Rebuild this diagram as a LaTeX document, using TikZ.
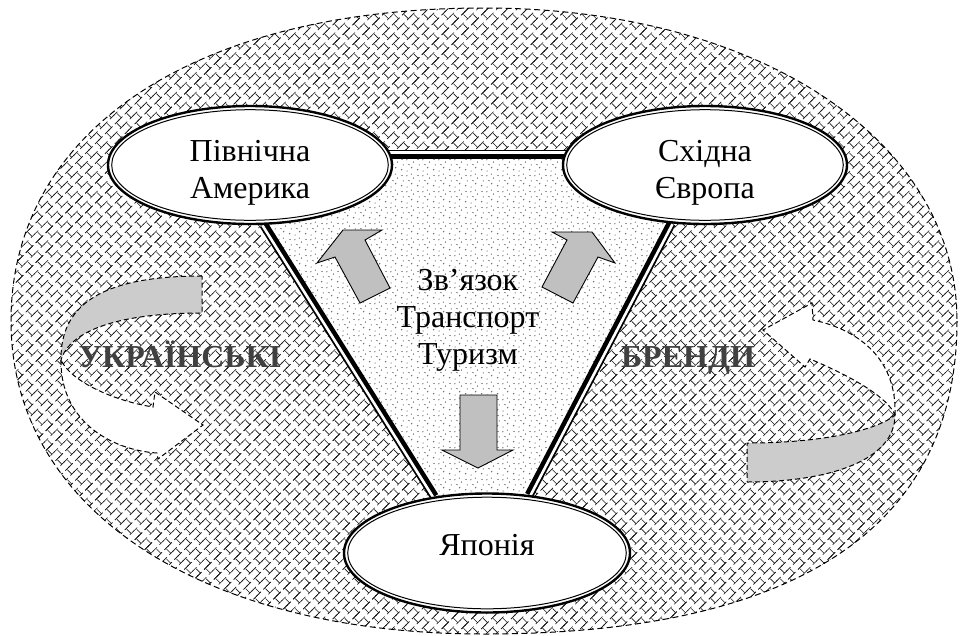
\documentclass[tikz,border=0pt]{standalone}
\usepackage{fontspec}
\setmainfont{Liberation Serif}
\usetikzlibrary{patterns.meta,calc,shapes.geometric}
\pgfdeclarelayer{back}
\pgfdeclarelayer{lines}
\pgfsetlayers{back,lines,main}
\definecolor{arrowgray}{RGB}{192,192,192}
\definecolor{bandgray}{RGB}{204,204,204}
\definecolor{brandgray}{RGB}{64,64,64}
\pgfdeclarepattern{
  name=dbrick,
  type=uncolored,
  bottom left={\pgfpoint{-1pt}{-1pt}},
  top right={\pgfpoint{15pt}{15pt}},
  tile size={\pgfpoint{14pt}{14pt}},
  tile transformation={\pgftransformrotate{45}},
  code={
    \pgfsetlinewidth{0.6pt}
    \pgfpathmoveto{\pgfpoint{-1pt}{0pt}}\pgfpathlineto{\pgfpoint{15pt}{0pt}}
    \pgfpathmoveto{\pgfpoint{-1pt}{7pt}}\pgfpathlineto{\pgfpoint{15pt}{7pt}}
    \pgfpathmoveto{\pgfpoint{-1pt}{14pt}}\pgfpathlineto{\pgfpoint{15pt}{14pt}}
    \pgfpathmoveto{\pgfpoint{3.5pt}{0pt}}\pgfpathlineto{\pgfpoint{3.5pt}{7pt}}
    \pgfpathmoveto{\pgfpoint{10.5pt}{7pt}}\pgfpathlineto{\pgfpoint{10.5pt}{14pt}}
    \pgfusepath{stroke}
  }
}
\pgfdeclarepattern{
  name=speck,
  type=uncolored,
  bottom left={\pgfpoint{0pt}{0pt}},
  top right={\pgfpoint{16pt}{16pt}},
  tile size={\pgfpoint{16pt}{16pt}},
  code={
    \pgfsetlinewidth{0.7pt}
    \pgfpathmoveto{\pgfpoint{1pt}{2pt}}\pgfpathlineto{\pgfpoint{2.3pt}{2.8pt}}
    \pgfpathmoveto{\pgfpoint{7pt}{1pt}}\pgfpathlineto{\pgfpoint{8pt}{1pt}}
    \pgfpathmoveto{\pgfpoint{12pt}{4pt}}\pgfpathlineto{\pgfpoint{12.8pt}{5.2pt}}
    \pgfpathmoveto{\pgfpoint{3.5pt}{7pt}}\pgfpathlineto{\pgfpoint{3.5pt}{8.2pt}}
    \pgfpathmoveto{\pgfpoint{9pt}{8pt}}\pgfpathlineto{\pgfpoint{10.2pt}{7.6pt}}
    \pgfpathmoveto{\pgfpoint{14pt}{10pt}}\pgfpathlineto{\pgfpoint{14.6pt}{11pt}}
    \pgfpathmoveto{\pgfpoint{1.5pt}{13pt}}\pgfpathlineto{\pgfpoint{2.7pt}{13.4pt}}
    \pgfpathmoveto{\pgfpoint{7pt}{12.5pt}}\pgfpathlineto{\pgfpoint{7.6pt}{13.7pt}}
    \pgfpathmoveto{\pgfpoint{11.5pt}{14.5pt}}\pgfpathlineto{\pgfpoint{12.7pt}{14.8pt}}
    \pgfusepath{stroke}
  }
}
\newcommand\ttline[2]{%
  \draw[line width=9pt] (#1) -- (#2);
  \draw[white, line width=2.6pt] ($(#1)!1.4pt!90:(#2)$) -- ($(#2)!1.4pt!-90:(#1)$);
}
\tikzset{
  outerline/.style={draw=black, line width=1pt, dash pattern=on 6pt off 3.5pt},
  bandline/.style={draw=black, line width=1pt, dash pattern=on 5pt off 3pt},
  place/.style={ellipse, draw=black, line width=2.4pt, fill=white, inner sep=0pt,
    font=\fontsize{32}{37}\selectfont},
  innerring/.style={draw=black, line width=1pt},
  blockarrow/.style={fill=arrowgray, draw=black, line width=0.9pt, line join=miter},
  brand/.style={font=\bfseries\fontsize{32}{36}\selectfont, text=brandgray, inner sep=0pt},
  info/.style={font=\fontsize{32}{37}\selectfont, inner sep=0pt}
}
\begin{document}
\begin{tikzpicture}[x=1pt,y=-1pt]
\useasboundingbox (0,0) rectangle (961,635);

% nodes
\node[place, minimum width=284pt, minimum height=118pt] (na) at (250,165)
  {\raisebox{-7.5pt}[\height][\depth]{\begin{tabular}{@{}c@{}}Північна\\Америка\end{tabular}}};
\draw[innerring] (na.center) ellipse [x radius=138.3pt, y radius=55.3pt];
\node[place, minimum width=284pt, minimum height=118pt] (se) at (705,165)
  {\raisebox{-7.5pt}[\height][\depth]{\begin{tabular}{@{}c@{}}Східна\\Європа\end{tabular}}};
\draw[innerring] (se.center) ellipse [x radius=138.3pt, y radius=55.3pt];
\node[place, minimum width=286pt, minimum height=119pt] (ja) at (487,553)
  {\raisebox{8pt}[\height][\depth]{Японія}};
\draw[innerring] (ja.center) ellipse [x radius=139.3pt, y radius=55.8pt];

\coordinate (nt) at ([yshift=11pt]na.center);
\coordinate (st) at ([yshift=11pt]se.center);

\begin{pgfonlayer}{back}
  % outer region
  \draw[outerline, pattern=dbrick, pattern color=black!90]
    (957,321) .. controls (957,527.6) and (796.2,634) .. (484,634)
    .. controls (200.2,634) and (11,508.8) .. (11,321)
    .. controls (11,130.1) and (195.5,8) .. (484,8)
    .. controls (758.3,8) and (957,139.5) .. cycle;
  % inner stippled triangle
  \fill[white] (222.6,158) -- (705,158) -- (520,510) -- (442,510) -- cycle;
  \fill[pattern=speck, pattern color=black!75] (222.6,158) -- (705,158) -- (520,510) -- (442,510) -- cycle;
  % left curved arrow
  \draw[bandline, fill=bandgray] (202,276) .. controls (110,276) and (60,300) .. (61,360)
    .. controls (70,330) and (120,313) .. (202,313) -- cycle;
  \draw[bandline, fill=white] (61,360) .. controls (60,420) and (110,450) .. (157,453)
    -- (158,459) -- (203,425) -- (155,392) -- (153,407)
    .. controls (110,400) and (70,380) .. (61,360) -- cycle;
  % right curved arrow
  \draw[bandline, fill=bandgray] (747,482) .. controls (830,482) and (895,460) .. (895,415)
    .. controls (880,428) and (830,443) .. (747,443) -- cycle;
  \draw[bandline, fill=white] (895,415) .. controls (897,360) and (860,330) .. (813,320)
    -- (812,303) -- (763,330) -- (805,367) -- (810,359)
    .. controls (855,378) and (888,398) .. (895,415) -- cycle;
\end{pgfonlayer}

\begin{pgfonlayer}{lines}
  \ttline{nt}{st}
  \ttline{ja.133}{na.-77}
  \ttline{se.-120}{ja.54}
\end{pgfonlayer}

% block arrows
\draw[blockarrow] (317,263) -- (343,230) -- (382,230) -- (365,240) -- (390,288) -- (360,303) -- (335,257) -- cycle;
\draw[blockarrow] (552,232) -- (592,232) -- (615,263) -- (598,257) -- (573,303) -- (542,287) -- (567,240) -- cycle;
\draw[blockarrow] (460,395) -- (497,395) -- (497,450) -- (513,450) -- (478,468) -- (442,450) -- (460,450) -- cycle;

% texts
\node[info] (tx) at (468,320) {\begin{tabular}{@{}c@{}}Зв’язок\\Транспорт\\Туризм\end{tabular}};
\node[brand, anchor=base] (uk) at (180,367) {УКРАЇНСЬКІ};
\node[brand, anchor=base] (br) at (688,367) {БРЕНДИ};
\end{tikzpicture}
\end{document}
